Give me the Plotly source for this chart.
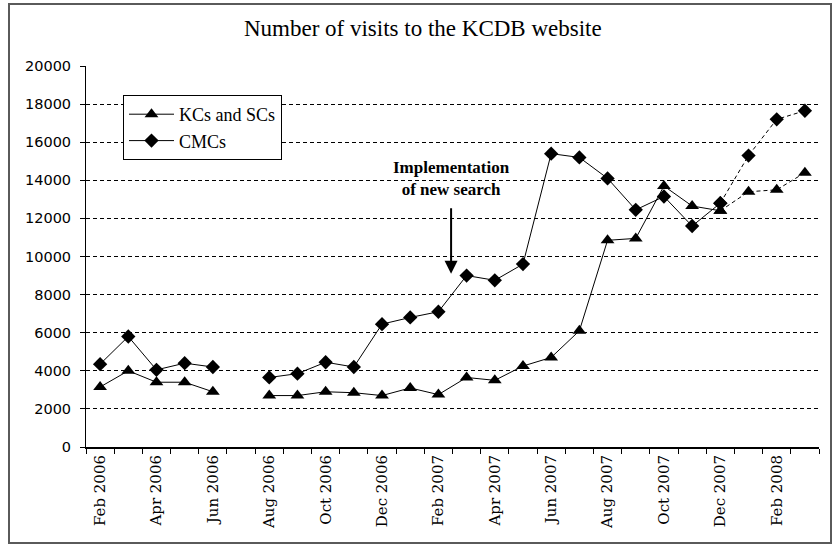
import plotly.graph_objs as go

months = ['Feb 2006', 'Mar 2006', 'Apr 2006', 'May 2006', 'Jun 2006', 'Jul 2006',
          'Aug 2006', 'Sep 2006', 'Oct 2006', 'Nov 2006', 'Dec 2006', 'Jan 2007',
          'Feb 2007', 'Mar 2007', 'Apr 2007', 'May 2007', 'Jun 2007', 'Jul 2007',
          'Aug 2007', 'Sep 2007', 'Oct 2007', 'Nov 2007', 'Dec 2007', 'Jan 2008',
          'Feb 2008', 'Mar 2008']

kcs_scs = [3150, 4000, 3400, 3400, 2900, None,
           2700, 2700, 2900, 2850, 2700, 3100,
           2750, 3650, 3500, 4250, 4700, 6100,
           10850, 10950, 13700, 12650, 12400, 13400,
           13500, 14400]

cmcs = [4350, 5800, 4050, 4400, 4200, None,
        3650, 3850, 4450, 4200, 6450, 6800,
        7100, 9000, 8750, 9600, 15400, 15200,
        14100, 12450, 13150, 11600, 12800, 15300,
        17200, 17650]

# last month with confirmed numbers, later points drawn dashed
split = months.index('Dec 2007')

tick_text = [m if i % 2 == 0 else '' for i, m in enumerate(months)]

serif = 'Liberation Serif'

fig = go.Figure()

for name, vals, sym, size in [('KCs and SCs', kcs_scs, 'triangle-up', 12),
                              ('CMCs', cmcs, 'diamond', 11)]:
    fig.add_trace(go.Scatter(
        x=months[:split + 1], y=vals[:split + 1], name=name,
        mode='lines+markers', connectgaps=False,
        line=dict(color='black', width=1),
        marker=dict(symbol=sym, size=size, color='black')
    ))
    fig.add_trace(go.Scatter(
        x=months[split:], y=vals[split:], name=name, showlegend=False,
        mode='lines+markers',
        line=dict(color='black', width=1, dash='4px,3px'),
        marker=dict(symbol=sym, size=size, color='black')
    ))

# arrow + label for the new search
fig.add_annotation(x=12.45, y=9100, ax=0, ay=-67, text='', showarrow=True,
                   arrowhead=2, arrowsize=1.3, arrowwidth=2, arrowcolor='black')
fig.add_annotation(x=12.45, y=9100, yshift=95, showarrow=False,
                   text='<b>Implementation<br>of new search</b>',
                   font=dict(family=serif, size=17, color='black'))

# outer chart frame
fig.add_shape(type='rect', xref='paper', yref='paper',
              x0=(9 - 86) / 733, x1=(831 - 86) / 733,
              y0=(447 - 543) / 381, y1=(447 - 4) / 381,
              line=dict(color='#5a5a5a', width=2), layer='above')

fig.update_layout(
    width=834, height=546,
    margin=dict(l=86, r=15, t=66, b=99),
    plot_bgcolor='white', paper_bgcolor='white',
    title=dict(text='Number of visits to the KCDB website', x=0.507, xanchor='center',
               y=1 - 28 / 546, yanchor='middle', yref='container',
               font=dict(family=serif, size=23, color='black')),
    legend=dict(x=(123 - 86) / 733, y=(447 - 95) / 381, xanchor='left', yanchor='top',
                bgcolor='white', bordercolor='black', borderwidth=1,
                font=dict(family=serif, size=18, color='black'),
                itemwidth=45, tracegroupgap=0),
    showlegend=True,
    xaxis=dict(
        type='category', categoryorder='array', categoryarray=months,
        range=[-0.5, len(months) - 0.5], automargin=False,
        tickvals=months, ticktext=tick_text, tickangle=-90,
        tickson='boundaries', ticks='outside', ticklen=5, tickcolor='black',
        showline=True, linecolor='black', linewidth=2,
        showgrid=False, zeroline=False,
        tickfont=dict(family='DejaVu Serif', size=15, color='black')
    ),
    yaxis=dict(
        range=[0, 20000], dtick=2000, tickformat='d', automargin=False,
        ticks='outside', ticklen=5, tickcolor='black',
        showline=True, linecolor='black', linewidth=1,
        showgrid=True, gridcolor='black', gridwidth=1, griddash='4px,3px',
        zeroline=False, ticklabelstandoff=6,
        tickfont=dict(family='DejaVu Sans', size=14.5, color='black')
    )
)

fig.write_html('out.html', config={'displayModeBar': False},
               post_script="document.body.style.margin='0';")
